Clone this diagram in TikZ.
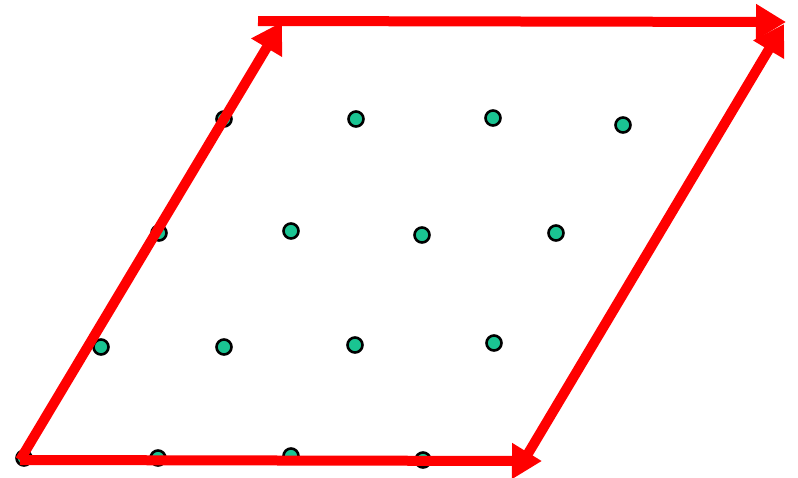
\documentclass[tikz,border=0pt]{standalone}
\usetikzlibrary{arrows.meta}
\definecolor{dotfill}{RGB}{26,196,146}
\definecolor{arrred}{RGB}{255,0,0}
\tikzset{
  dot/.style={circle,draw=black,line width=2.6pt,fill=dotfill,inner sep=0pt,minimum size=15pt},
  vec/.style={draw=arrred,line width=10pt,-{Triangle[length=30pt,width=34pt]}}
}
\begin{document}
\begin{tikzpicture}[x=1pt,y=-1pt]
\useasboundingbox (0,0) rectangle (798,477);
% lattice points
\node[dot] (p11) at (224,119) {};
\node[dot] (p12) at (356,119) {};
\node[dot] (p13) at (493,118) {};
\node[dot] (p14) at (623,125) {};
\node[dot] (p21) at (159,233) {};
\node[dot] (p22) at (291,231) {};
\node[dot] (p23) at (422,235) {};
\node[dot] (p24) at (556,233) {};
\node[dot] (p31) at (101,347) {};
\node[dot] (p32) at (224,347) {};
\node[dot] (p33) at (355,345) {};
\node[dot] (p34) at (494,343) {};
\node[dot] (p40) at (24,458) {};
\node[dot] (p41) at (158,458) {};
\node[dot] (p42) at (291,456) {};
\node[dot] (p43) at (423,460) {};
% vector end points
\coordinate (O) at (20,460);
\coordinate (A) at (542,461);
\coordinate (B) at (282,22);
\coordinate (C) at (258,21);
\coordinate (D) at (786,22);
\coordinate (E) at (523,462);
\coordinate (F) at (784,24);
\draw[vec] (O) -- (A);
\draw[vec] (O) -- (B);
\draw[vec] (C) -- (D);
\draw[vec] (E) -- (F);
\end{tikzpicture}
\end{document}
